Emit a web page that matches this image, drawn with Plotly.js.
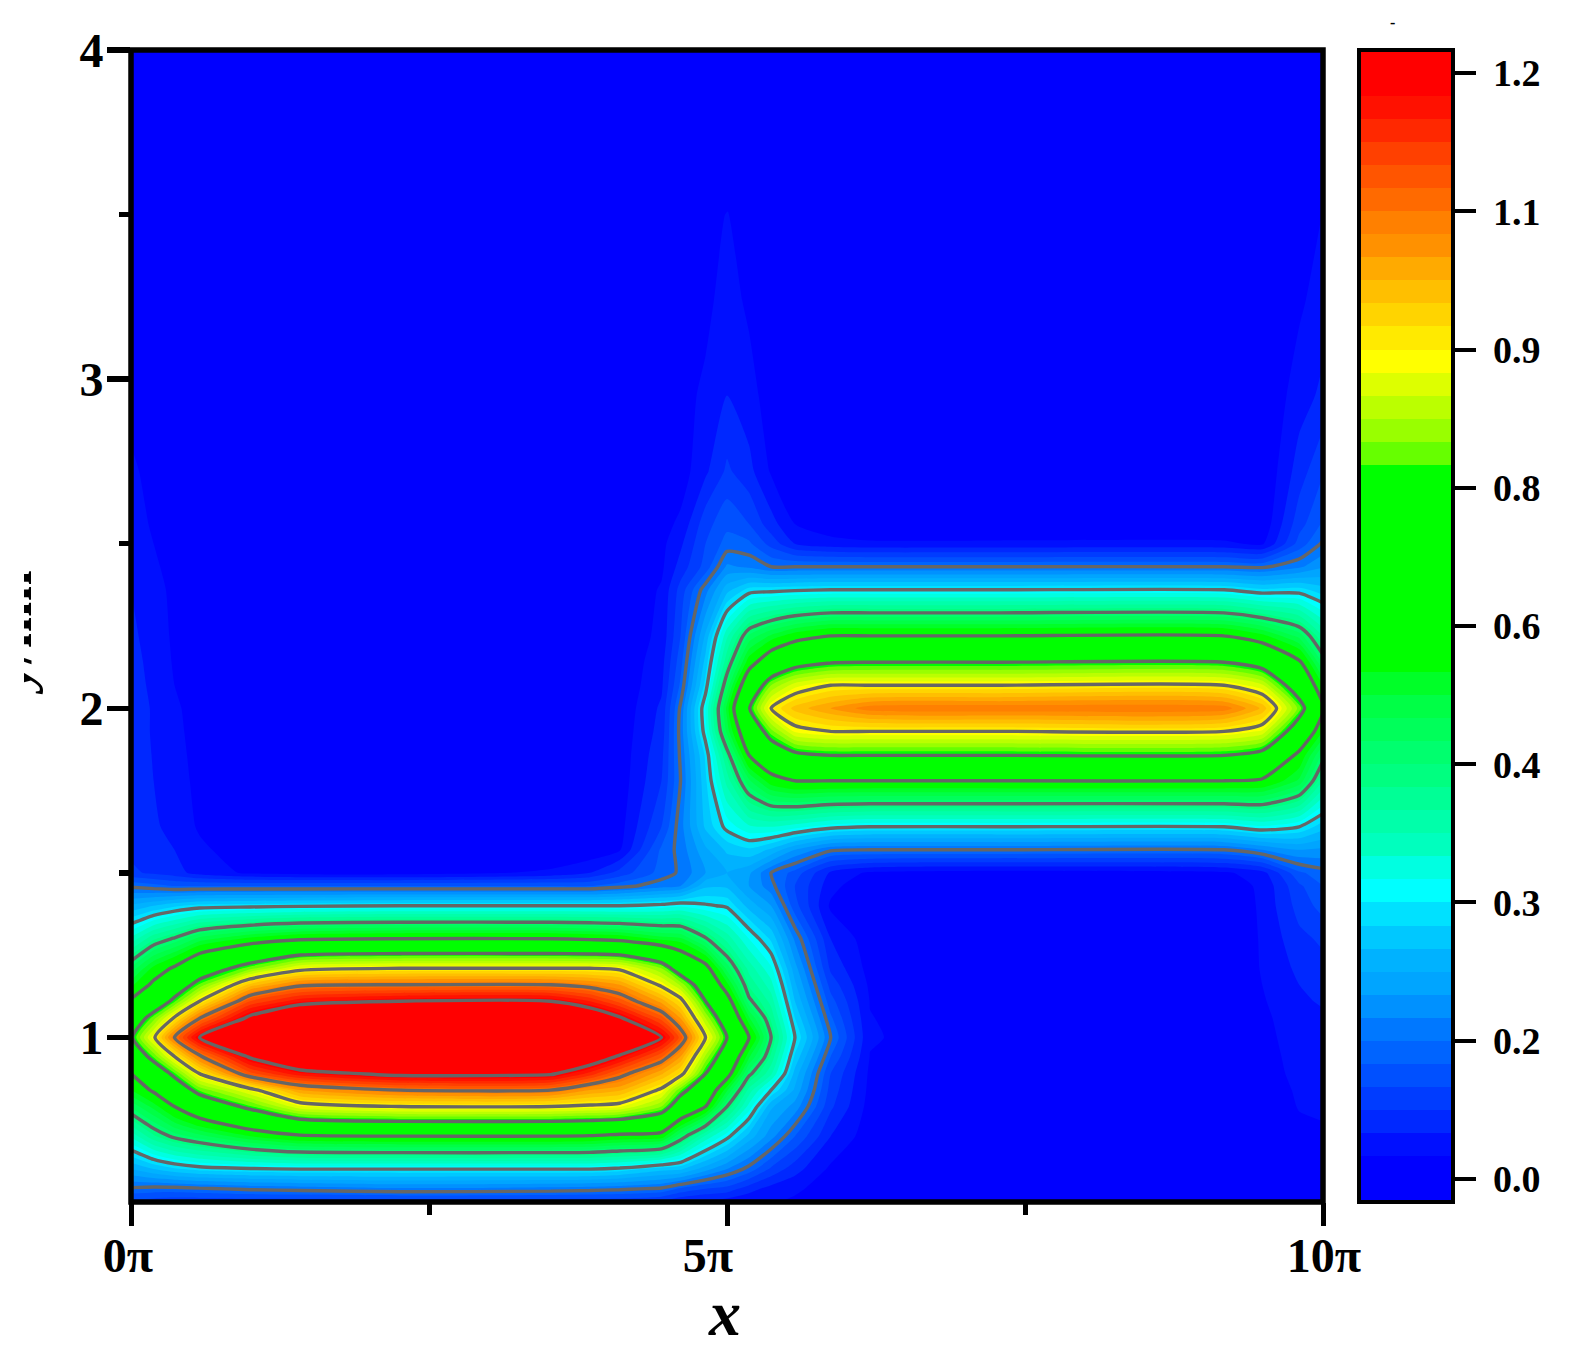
<!DOCTYPE html>
<html><head><meta charset="utf-8">
<script src="https://cdn.plot.ly/plotly-3.0.1.min.js"></script>
<style>
html,body{margin:0;padding:0;background:#fff;width:1571px;height:1360px;overflow:hidden}
#clip{position:absolute;left:24px;top:20px;width:1547px;height:1340px;overflow:hidden}
#chart{position:absolute;left:-24px;top:-20px;width:1571px;height:1360px}
</style></head><body>
<div id="clip"><div id="chart"></div></div>
<script>
const xVals=[0,.19,.365,.575,1,1.42,2.26,3.52,3.85,4.1,4.45,4.61,4.82,5,5.185,5.37,5.57,5.87,6.2,7.29,9.17,9.49,9.8,10];
const yVals=[4,3.5,3.24,2.95,2.72,2.56,2.5,2.43,2.36,2.22,2.14,2.07,2,1.93,1.857,1.78,1.64,1.57,1.5,1.46,1.4,1.3,1.21,1.16,1.11,1.058,1,.942,.89,.84,.79,.7,.6,.54,.5];
const zRows=[
[0,0,0,0,0,0,0,0,0,0,0,0,0,0,0,0,0,0,0,0,0,0,0,0],
[0,0,0,0,0,0,0,0,0,0,0,0,.015,.026,.012,0,0,0,0,0,0,0,.005,.026],
[0,0,0,0,0,0,0,0,0,0,0,.008,.018,.036,.02,.004,0,0,0,0,0,0,.02,.038],
[.015,.006,0,0,0,0,0,0,0,0,0,.016,.03,.05,.035,.012,0,0,0,0,0,0,.038,.056],
[.03,.016,.005,0,0,0,0,0,0,0,.012,.012,.045,.08,.058,.022,.006,0,0,0,0,0,.062,.098],
[.035,.022,.01,0,0,0,0,0,0,.004,.016,.03,.09,.118,.1,.06,.025,.008,0,0,0,.005,.09,.127],
[.04,.025,.012,.004,0,0,0,0,0,.006,.018,.045,.1,.135,.13,.09,.05,.035,.03,.03,.03,.02,.11,.155],
[.045,.03,.014,.004,0,0,0,0,0,.004,.02,.06,.11,.18,.17,.15,.15,.15,.15,.15,.15,.145,.17,.197],
[.05,.035,.018,.006,0,0,0,0,0,0,.028,.085,.165,.24,.285,.29,.295,.3,.3,.3,.3,.28,.285,.26],
[.055,.04,.02,.008,0,0,0,0,0,.004,.032,.1,.23,.37,.48,.53,.57,.6,.6,.6,.6,.56,.49,.4],
[.058,.043,.022,.009,0,0,0,0,0,.004,.04,.115,.26,.42,.57,.655,.715,.745,.75,.75,.75,.71,.61,.47],
[.06,.045,.025,.01,0,0,0,0,0,.005,.045,.13,.285,.48,.665,.8,.865,.9,.9,.9,.9,.855,.69,.55],
[.06,.048,.03,.012,0,0,0,0,0,.006,.055,.155,.325,.535,.745,.9,.96,1,1.04,1.045,1.04,.97,.79,.615],
[.06,.048,.032,.014,0,0,0,0,0,.008,.06,.16,.315,.51,.67,.79,.88,.9,.9,.9,.9,.87,.69,.55],
[.06,.049,.034,.016,.002,0,0,0,0,.009,.068,.155,.28,.43,.6,.68,.73,.75,.75,.75,.75,.72,.58,.465],
[.06,.05,.036,.018,.004,0,0,0,0,.01,.075,.15,.27,.385,.495,.57,.6,.6,.6,.6,.6,.59,.52,.4],
[.065,.055,.04,.022,.006,0,0,0,0,.015,.1,.165,.255,.31,.345,.35,.335,.31,.3,.3,.3,.32,.3,.26],
[.07,.06,.05,.03,.01,0,0,0,.005,.022,.13,.16,.22,.255,.27,.245,.2,.155,.15,.15,.15,.175,.2,.195],
[.08,.07,.06,.04,.02,.014,.012,.03,.05,.085,.135,.155,.2,.225,.205,.15,.115,.045,.02,.012,.02,.04,.12,.14],
[.145,.135,.125,.125,.125,.125,.125,.125,.125,.14,.165,.175,.245,.245,.2,.16,.1,.035,0,0,.01,.03,.095,.125],
[.23,.25,.27,.285,.29,.295,.3,.3,.3,.3,.31,.32,.305,.295,.24,.2,.11,.02,0,0,0,.03,.085,.11],
[.357,.42,.455,.51,.56,.59,.6,.6,.59,.58,.54,.53,.455,.39,.325,.27,.17,.05,.01,0,0,.028,.068,.08],
[.48,.56,.61,.69,.79,.88,.9,.9,.9,.89,.8,.7,.625,.49,.39,.33,.21,.07,.015,0,0,.027,.056,.067],
[.54,.615,.69,.78,.96,1.04,1.05,1.05,1.03,1,.89,.82,.69,.56,.42,.36,.23,.09,.02,0,0,.025,.05,.06],
[.61,.68,.77,.9,1.1,1.17,1.2,1.2,1.15,1.09,.99,.92,.75,.635,.46,.39,.25,.11,.024,0,0,.022,.047,.052],
[.68,.79,.91,1.05,1.22,1.32,1.35,1.33,1.28,1.21,1.09,1,.825,.69,.53,.42,.275,.13,.026,0,0,.018,.043,.047],
[.74,.89,1.05,1.2,1.36,1.44,1.5,1.46,1.4,1.32,1.2,1.09,.9,.75,.6,.45,.3,.15,.028,0,0,.015,.04,.043],
[.67,.78,.9,1.04,1.21,1.31,1.34,1.32,1.26,1.19,1.08,1,.82,.69,.53,.42,.27,.125,.024,0,0,.012,.037,.04],
[.6,.68,.77,.9,1.09,1.17,1.22,1.21,1.14,1.07,.98,.92,.75,.63,.46,.38,.24,.1,.02,0,0,.01,.034,.036],
[.55,.61,.68,.78,.88,1,1.05,1.05,1,.98,.89,.78,.67,.53,.39,.3,.22,.09,.018,0,0,.005,.03,.033],
[.48,.535,.6,.67,.77,.87,.9,.9,.89,.88,.8,.69,.6,.45,.34,.23,.19,.08,.015,0,0,0,.027,.03],
[.355,.42,.46,.49,.55,.59,.6,.6,.595,.58,.57,.475,.37,.31,.24,.185,.125,.05,.01,0,0,0,.015,.02],
[.225,.25,.27,.285,.295,.3,.3,.3,.3,.29,.26,.255,.21,.175,.14,.095,.06,.02,.008,0,0,0,0,.005],
[.145,.14,.14,.145,.155,.16,.17,.165,.16,.155,.145,.12,.1,.09,.06,.04,.03,.012,0,0,0,0,0,0],
[.09,.085,.08,.08,.08,.08,.08,.08,.08,.08,.07,.05,.04,.035,.03,.028,.02,.01,0,0,0,0,0,0]
];
const bandColors=[
'rgb(0,0,255)','rgb(0,0,255)','rgb(0,15,255)','rgb(0,40,255)','rgb(0,60,255)','rgb(0,80,255)','rgb(0,100,255)','rgb(0,120,255)','rgb(0,145,255)','rgb(0,165,255)',
'rgb(0,178,255)','rgb(0,200,255)','rgb(0,225,255)','rgb(0,255,255)','rgb(0,255,225)','rgb(0,255,190)','rgb(0,255,170)','rgb(0,255,150)','rgb(0,255,128)','rgb(0,255,110)',
'rgb(0,255,90)','rgb(0,255,70)','rgb(0,255,40)','rgb(0,255,0)','rgb(0,255,0)','rgb(0,255,0)','rgb(0,255,0)','rgb(0,255,0)','rgb(0,255,0)','rgb(0,255,0)',
'rgb(0,255,0)','rgb(0,255,0)','rgb(102,255,0)','rgb(153,255,0)','rgb(187,255,0)','rgb(221,255,0)','rgb(255,255,0)','rgb(255,234,0)','rgb(255,212,0)','rgb(255,191,0)',
'rgb(255,170,0)','rgb(255,145,0)','rgb(255,128,0)','rgb(255,106,0)','rgb(255,85,0)','rgb(255,64,0)','rgb(255,40,0)','rgb(255,17,0)','rgb(255,0,0)','rgb(255,0,0)'];
const barTickVals=[0,.15,.3,.45,.6,.75,.9,1.05,1.2];
const barTickText=['0.0','0.2','0.3','0.4','0.6','0.8','0.9','1.1','1.2'];
const xTickVals=[0,5,10], xTickText=['0π','5π','10π'];
const yTickVals=[1,2,3,4], yTickText=['1','2','3','4'];
const xMinor=[2.5,7.5], yMinor=[1.5,2.5,3.5];

const F='"Liberation Serif","Times New Roman",serif';
const ys=yVals.slice().reverse(), zs=zRows.slice().reverse();
const nB=bandColors.length;
const scale=bandColors.map((c,i)=>[i/(nB-1),c]);
const stepScale=[];
bandColors.forEach((c,i)=>{stepScale.push([i/nB,c]);stepScale.push([(i+1)/nB,c]);});
const base={type:'heatmap',x:xVals,y:ys,z:zs,zmin:-.025,zmax:1.225,zauto:false,colorscale:stepScale,hoverinfo:'skip',
  colorbar:{x:1.0306,xanchor:'left',xpad:0,y:0.5,yanchor:'middle',ypad:0,len:1,lenmode:'fraction',thickness:94,thicknessmode:'pixels',
    outlinewidth:4,outlinecolor:'#000',borderwidth:0,
    tickmode:'array',tickvals:barTickVals,ticktext:barTickText,ticks:'outside',ticklen:21,tickwidth:4,tickcolor:'#000',
    tickfont:{family:F,size:38,color:'#000',weight:700}}};
const fill={type:'contour',x:xVals,y:ys,z:zs,colorscale:scale,autocontour:false,showscale:false,
  contours:{coloring:'fill',start:0,end:1.2,size:.025,showlines:false},
  line:{width:0,smoothing:0.6},hoverinfo:'skip'};
const lines={type:'contour',x:xVals,y:ys,z:zs,showscale:false,autocontour:false,
  contours:{coloring:'none',start:.15,end:1.2,size:.15},
  line:{color:'#666666',width:3.4,smoothing:0.6},hoverinfo:'skip'};
const axBase={showgrid:false,zeroline:false,showline:false,ticks:'outside',tickcolor:'#000',
  tickfont:{family:F,size:48,color:'#000',weight:700}};
const layout={width:1571,height:1360,paper_bgcolor:'#fff',plot_bgcolor:'#fff',showlegend:false,
  margin:{l:130.5,r:247.5,t:50,b:158,pad:0},
  xaxis:Object.assign({},axBase,{range:[0,10],ticklen:23,tickwidth:5,tickmode:'array',tickvals:xTickVals,ticktext:xTickText,ticklabelstandoff:-12,
    minor:{tickmode:'array',tickvals:xMinor,ticks:'outside',ticklen:11.5,tickwidth:5,tickcolor:'#000',showgrid:false},
    title:{text:'<b><i>x</i></b>',font:{family:F,size:64,color:'#000'},standoff:0}}),
  yaxis:Object.assign({},axBase,{range:[.5,4],ticklen:23,tickwidth:5.5,tickmode:'array',tickvals:yTickVals,ticktext:yTickText,ticklabelstandoff:-6,
    minor:{tickmode:'array',tickvals:yMinor,ticks:'outside',ticklen:11.5,tickwidth:5.5,tickcolor:'#000',showgrid:false}}),
  shapes:[{type:'rect',xref:'paper',yref:'paper',x0:0,x1:1,y0:0,y1:1,layer:'above',line:{color:'#000',width:5.5},fillcolor:'rgba(0,0,0,0)'}],
  annotations:[
   {xref:'paper',yref:'y',x:-0.1006,y:2.23,xanchor:'center',yanchor:'middle',text:'<b><i>y</i>/nm</b>',textangle:-90,showarrow:false,font:{family:F,size:56,color:'#000'}},
   {xref:'paper',yref:'paper',x:1.058,y:1.024,xanchor:'center',yanchor:'middle',text:'<b>-</b>',showarrow:false,font:{family:F,size:16,color:'#000'}}
  ]};
Plotly.newPlot('chart',[base,fill,lines],layout,{displayModeBar:false,staticPlot:true}).then(()=>{
  const nudge=(t,dx,dy)=>{t.setAttribute('x',parseFloat(t.getAttribute('x')||'0')+dx);t.setAttribute('y',parseFloat(t.getAttribute('y')||'0')+dy);};
  document.querySelectorAll('.cbaxis text, .colorbar .ytick text').forEach(t=>nudge(t,10,0));
  document.querySelectorAll('.xtick text').forEach(t=>{
    const s=t.textContent; nudge(t, s==='5π'?-19:(s==='0π'?-3:1), 0);
  });
  document.querySelectorAll('.xtitle').forEach(t=>nudge(t,-2,-4));
});
</script></body></html>
